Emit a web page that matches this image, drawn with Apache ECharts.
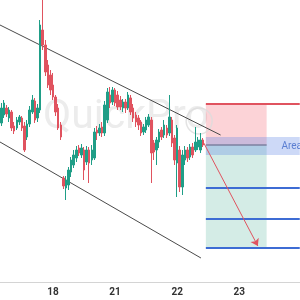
<!DOCTYPE html>
<html>
<head>
<meta charset="utf-8">
<script src="https://cdn.jsdelivr.net/npm/echarts@6/dist/echarts.min.js"></script>
<style>html,body{margin:0;padding:0;background:#fff}#c{width:300px;height:300px}</style>
</head>
<body>
<div id="c"></div>
<script>
// Trading days shown on the time axis, and the hour at which the first candle starts
const days = ['17', '18', '21', '22', '23'];
const firstHour = 4;
// Hourly candles: [open, close, low, high]
const candles = [
[159,174,156,179],[167,179,164,182],[174,168,165,177],[164,172,160,175],[170,154,151,172],
[156,151,148,160],[154,162,152,165],[160,165,157,167],[164,154,151,166],[156,132,130,160],
[145,158,142,162],[158,172,155,176],[170,182,168,187],[181,162,159,184],[164,174,160,178],
[172,257,169,262],[252,237,232,287],[237,210,206,242],[217,197,194,222],[207,192,187,212],
[197,185,182,209],[185,170,166,187],[174,154,152,178],[157,145,142,160],[104,96,93,106],
[94,102,82,106],[97,112,92,115],[110,122,105,125],[117,127,114,132],[124,132,120,136],
[134,129,126,137],[127,134,124,138],[132,112,102,135],[120,132,117,136],[132,119,99,135],
[122,132,117,137],[124,150,122,154],[152,149,142,156],[149,154,146,158],[155,149,145,160],
[149,177,146,181],[162,190,159,194],[187,179,174,195],[180,192,177,195],[192,179,176,194],
[187,175,172,191],[182,175,172,186],[174,180,170,183],[180,174,169,183],[174,187,172,190],
[184,170,167,187],[174,164,160,178],[167,160,155,170],[164,157,152,167],[160,149,146,162],
[150,155,147,158],[152,162,149,165],[157,165,155,168],[162,129,99,165],[139,130,122,142],
[132,142,117,145],[140,150,134,153],[152,145,142,155],[147,157,144,162],[154,147,144,157],
[149,165,146,187],[162,139,135,165],[144,122,117,147],[119,154,85,157],[132,95,90,136],
[95,127,87,132],[122,132,117,136],[132,124,120,135],[125,135,122,138],[135,127,124,139],
[132,140,130,155],[135,142,132,145],[132,142,129,149],[142,137,135,144]
];
// Channel lines (hour index, price)
const upperChannel = [[-0.5, 257], [84.8, 147]];
const lowerChannel = [[-0.5, 140], [77.2, 24]];
// Trade setup
const tradeStart = 79.1, zoneEnd = 102.6, lineEnd = 115.4;
const stopPrice = 178, entryPrice = 137;
const targets = [94, 63, 34];
const areaBand = [145, 127];
const areaLabel = 'Area';
const arrowPath = [[78.3, 139], [99.2, 36]];
const highlight = [76.5, 161];

const cats = [];
days.forEach((d, di) => {
  for (let h = (di === 0 ? firstHour : 0); h < 24; h++) cats.push(d + ' ' + String(h).padStart(2, '0') + ':00');
});

const RED = '#e0535f', GREEN = '#1f9e87', BLUE = '#3d6cd4';
const chart = echarts.init(document.getElementById('c'), null, {renderer: 'canvas'});
chart.setOption({
  animation: false,
  backgroundColor: '#fff',
  grid: {left: 0, right: -6, top: 0, bottom: 18},
  graphic: [{type: 'text', left: 43, top: 97, z: 0,
    style: {text: 'QuickPro', font: '41px Roboto', fill: '#ececec'}}],
  xAxis: [
    {type: 'category', data: cats, boundaryGap: true,
     axisLine: {lineStyle: {color: '#d4d4d4'}}, axisTick: {show: false},
     splitLine: {show: false},
     axisLabel: {interval: (i, v) => v.endsWith(' 00:00'), formatter: v => v.split(' ')[0],
       color: '#333', fontWeight: 'bold', fontSize: 10, margin: 5, fontFamily: 'Roboto'}},
    {type: 'value', min: -0.5, max: cats.length - 0.5, show: false}
  ],
  yAxis: {type: 'value', min: 0, max: 282, show: false},
  series: [
    {type: 'line', xAxisIndex: 1, data: upperChannel, symbol: 'none', silent: true,
     lineStyle: {color: '#4a4a4a', width: 1}, z: 3,
     markArea: {silent: true, data: [
       [{coord: [tradeStart, stopPrice], itemStyle: {color: 'rgba(242,80,95,0.25)'}}, {coord: [zoneEnd, entryPrice]}],
       [{coord: [tradeStart, entryPrice], itemStyle: {color: 'rgba(40,160,130,0.2)'}}, {coord: [zoneEnd, targets[2]]}],
       [{coord: [tradeStart, areaBand[0]], itemStyle: {color: 'rgba(90,130,230,0.3)'}}, {coord: [lineEnd, areaBand[1]]}]
     ]},
     markLine: {silent: true, symbol: 'none', label: {show: false}, data: [
       [{coord: [tradeStart, stopPrice], lineStyle: {color: RED, width: 2, type: 'solid'}}, {coord: [lineEnd, stopPrice]}],
       [{coord: [tradeStart, entryPrice], lineStyle: {color: '#7d80a0', width: 1.5, type: 'solid'}}, {coord: [zoneEnd, entryPrice]}],
       ...targets.map(t => [{coord: [tradeStart, t], lineStyle: {color: BLUE, width: 2, type: 'solid'}}, {coord: [lineEnd, t]}])
     ]}},
    {type: 'line', xAxisIndex: 1, data: lowerChannel, symbol: 'none', silent: true,
     lineStyle: {color: '#4a4a4a', width: 1}, z: 3,
     markLine: {silent: true, symbol: ['none', 'arrow'], symbolSize: 7, label: {show: false}, data: [
       [{coord: arrowPath[0], lineStyle: {color: RED, width: 1, type: 'solid'}}, {coord: arrowPath[1]}]
     ]}},
    {type: 'candlestick', xAxisIndex: 0, data: candles, barWidth: 2, clip: true, z: 4,
     itemStyle: {color: GREEN, color0: RED, borderColor: GREEN, borderColor0: RED, borderWidth: 1}},
    {type: 'scatter', xAxisIndex: 1, data: [highlight], symbolSize: 26, silent: true, z: 2,
     itemStyle: {color: 'rgba(0,0,0,0)', borderColor: '#dcdcdc', borderWidth: 1.5}},
    {type: 'scatter', xAxisIndex: 1, data: [[108.3, (areaBand[0] + areaBand[1]) / 2]], symbolSize: 0, silent: true,
     label: {show: true, position: 'right', distance: 0, formatter: areaLabel, color: '#3e68c8', fontSize: 10, fontFamily: 'Roboto'}}
  ]
});
</script>
</body>
</html>
